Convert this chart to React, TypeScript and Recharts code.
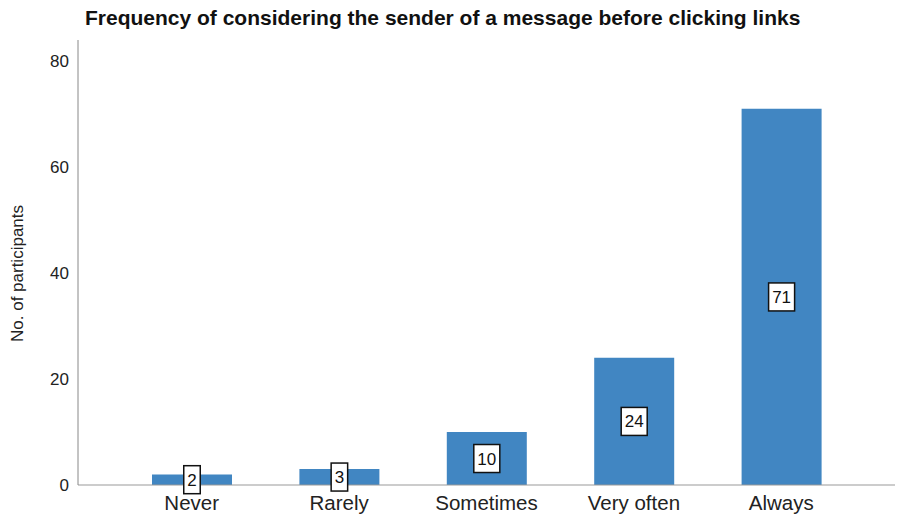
import { Bar, BarChart, LabelList, XAxis, YAxis } from "recharts";

const categories = ["Never", "Rarely", "Sometimes", "Very often", "Always"];
const participants = [2, 3, 10, 24, 71];
const yTicks = [0, 20, 40, 60, 80];

const data = categories.map((name, i) => ({ name, count: participants[i] }));

const font = "'Liberation Sans', Arial, sans-serif";

function ValueBox(props: any) {
  const { x, y, width, height, value } = props;
  const cx = Number(x) + Number(width) / 2;
  const cy = Number(y) + Number(height) / 2;
  const w = String(value).length * 9.5 + 7;
  const h = 28;
  return (
    <g>
      <rect x={cx - w / 2} y={cy - h / 2} width={w} height={h} fill="#fff" stroke="#111" strokeWidth={1.5} />
      <text x={cx} y={cy + 6} textAnchor="middle" fontSize={17} fontFamily={font} fill="#111">
        {value}
      </text>
    </g>
  );
}

function YTitle(props: any) {
  const vb = props.viewBox || {};
  const cy = vb.y + vb.height / 2 + 11;
  return (
    <text x={23} y={cy} transform={`rotate(-90 23 ${cy})`} textAnchor="middle" fontSize={17} fontFamily={font} fill="#222">
      No. of participants
    </text>
  );
}

export default function App() {
  return (
    <div style={{ position: "absolute", left: 0, top: 0, width: 898, height: 518, background: "#fff" }}>
      <div
        style={{
          position: "absolute",
          left: 85,
          top: 6,
          fontFamily: font,
          fontWeight: "bold",
          fontSize: 21,
          color: "#111",
          whiteSpace: "nowrap",
        }}
      >
        Frequency of considering the sender of a message before clicking links
      </div>
      <BarChart width={898} height={518} data={data} margin={{ top: 40, right: 3, bottom: 0, left: 0 }}>
        <XAxis
          dataKey="name"
          height={33}
          padding={{ left: 40, right: 40 }}
          tickLine={false}
          tickMargin={4}
          stroke="#999"
          tick={{ fill: "#222", fontSize: 20.5, fontFamily: font }}
        />
        <YAxis
          width={78}
          domain={[0, 84]}
          ticks={yTicks}
          tickLine={false}
          tickMargin={3}
          stroke="#888"
          tick={{ fill: "#222", fontSize: 17, fontFamily: font }}
          label={<YTitle />}
        />
        <Bar dataKey="count" fill="#4186C2" barSize={80} isAnimationActive={false}>
          <LabelList dataKey="count" content={<ValueBox />} />
        </Bar>
      </BarChart>
    </div>
  );
}
